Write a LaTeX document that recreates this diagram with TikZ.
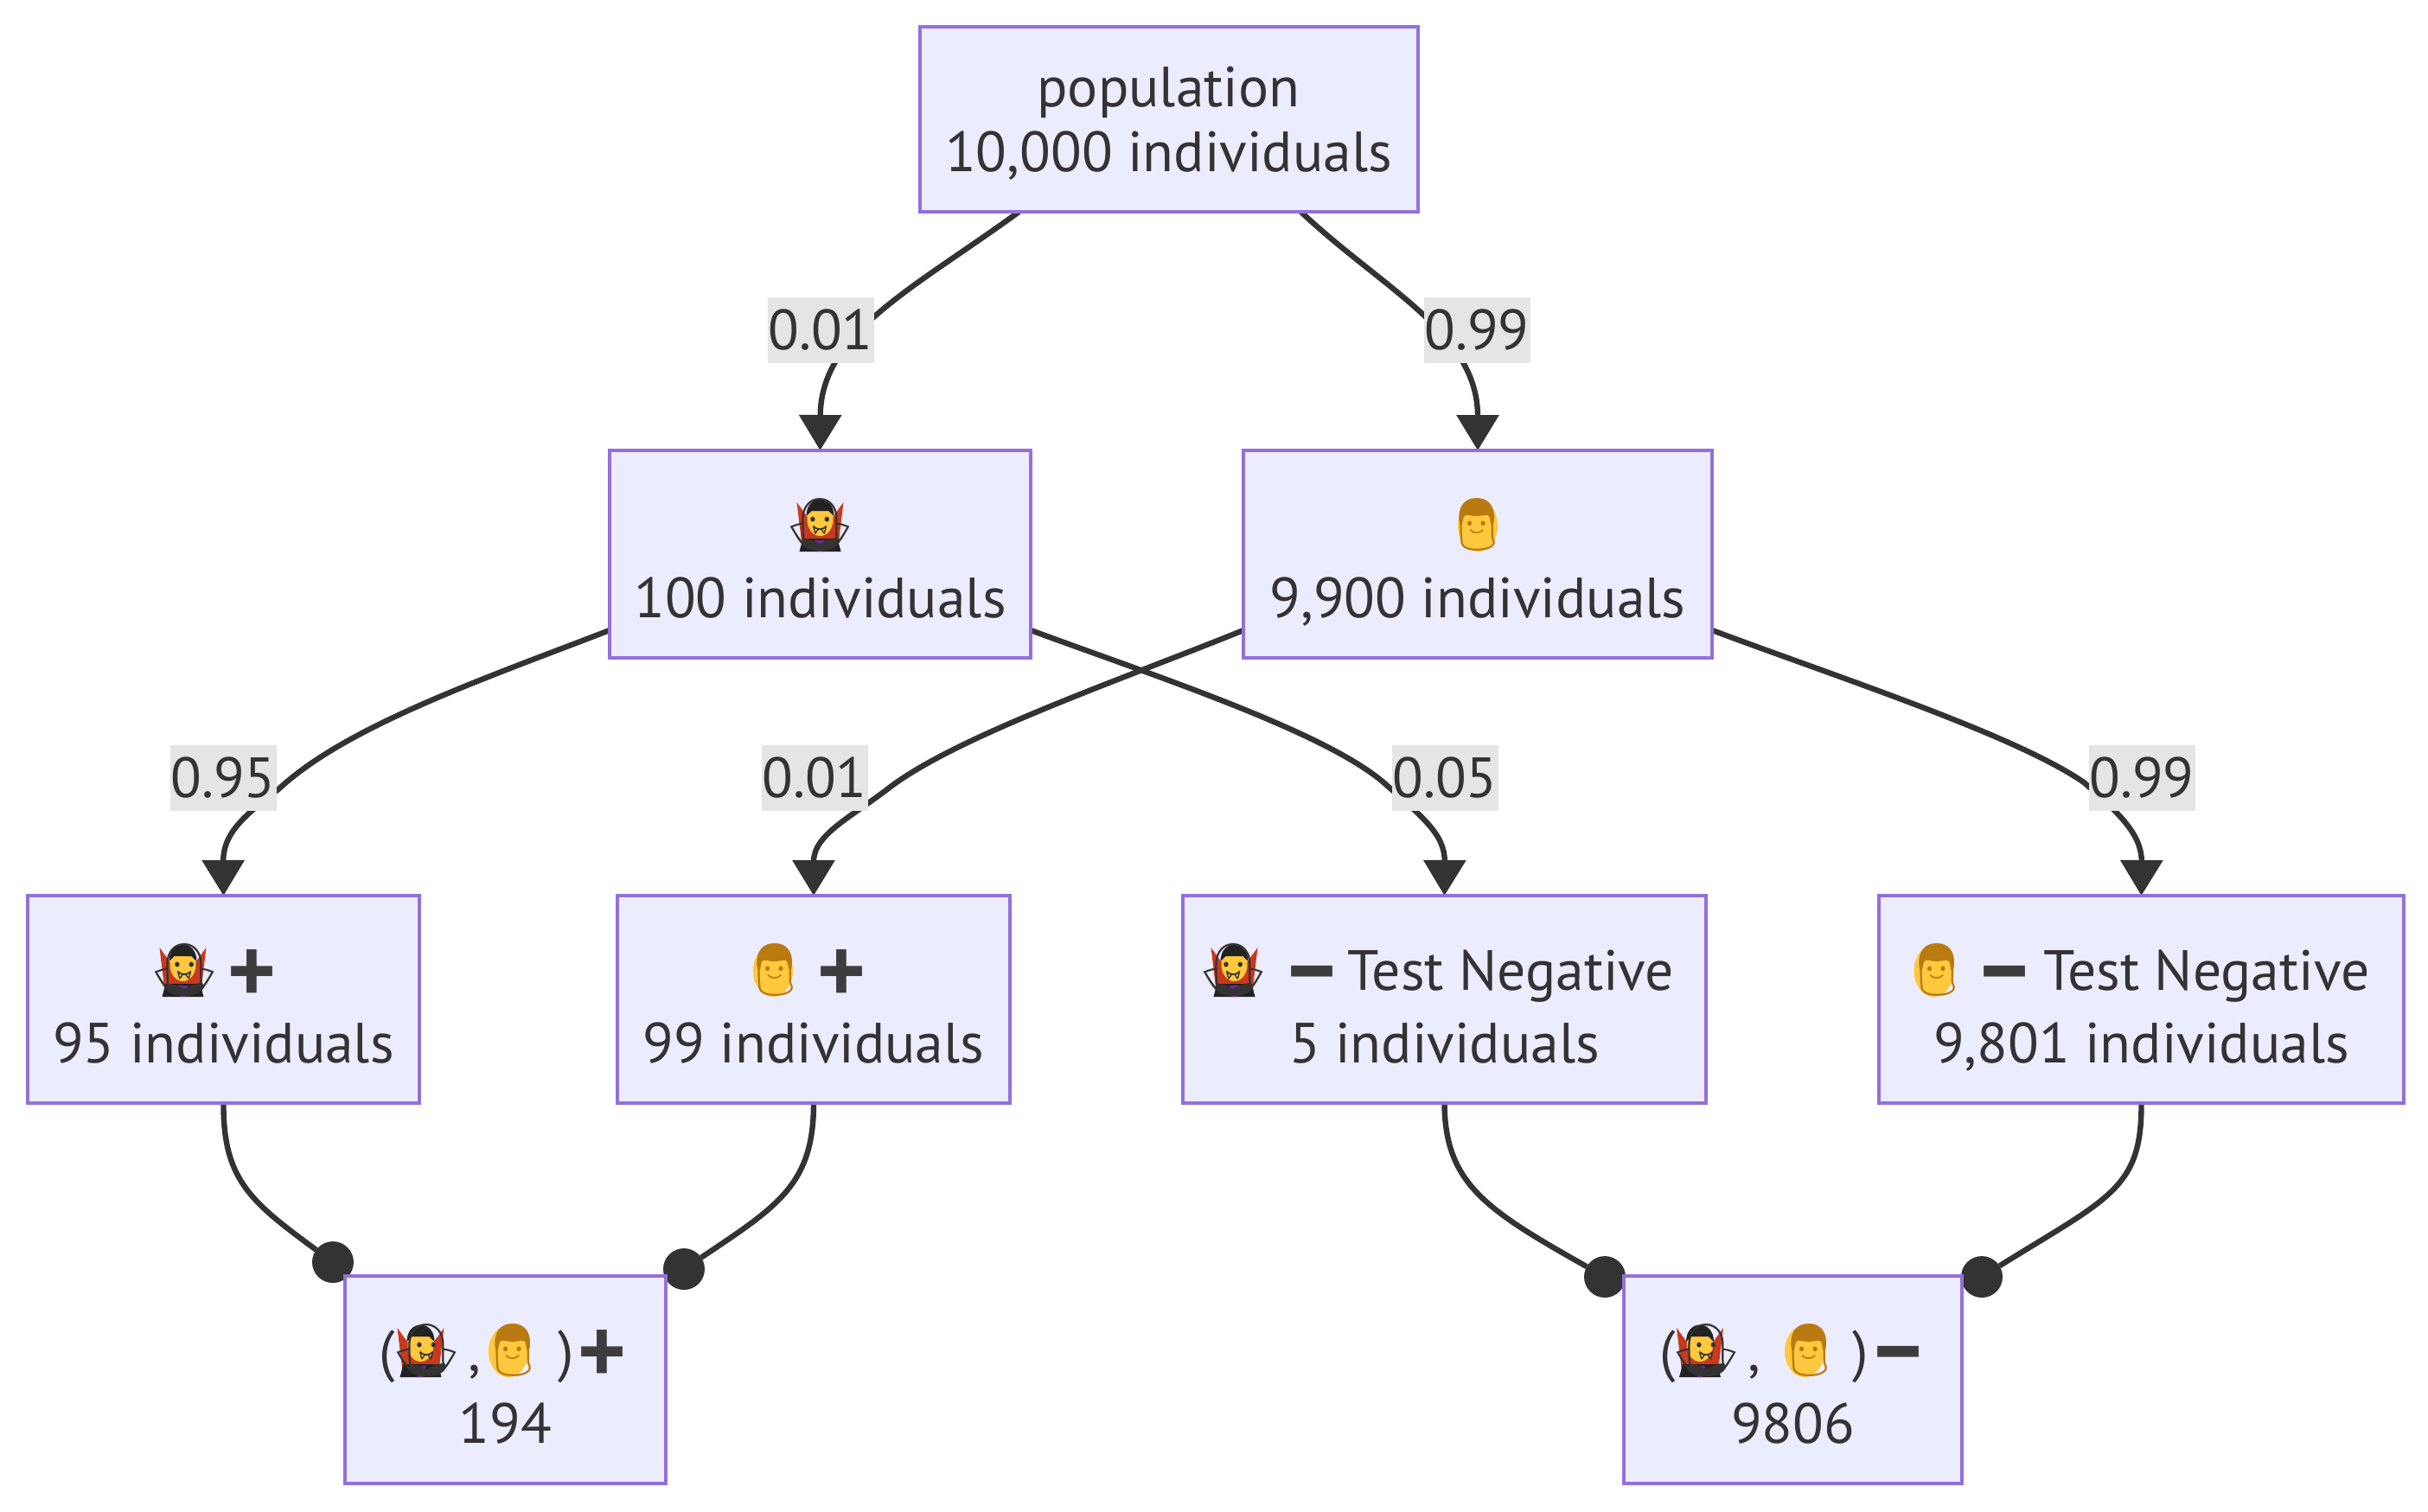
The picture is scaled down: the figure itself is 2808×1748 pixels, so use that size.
\documentclass[tikz,border=0pt]{standalone}
\usepackage{fontspec}
\usetikzlibrary{arrows.meta,backgrounds,calc}
\setmainfont{PT Sans}
\newfontfamily\emo{Noto Emoji}
\definecolor{boxfill}{HTML}{ECECFF}
\definecolor{boxline}{HTML}{9370DB}
\definecolor{ink}{HTML}{333333}
\definecolor{lab}{HTML}{E5E5E5}
\definecolor{skin}{HTML}{FFC83D}
\definecolor{hairc}{HTML}{B97A10}
\definecolor{cape}{HTML}{C8391E}
\definecolor{suit}{HTML}{222222}
\definecolor{vest}{HTML}{6A2C91}
\newcommand\vamp{\makebox[18pt][c]{\raisebox{0.6pt}{\smash{\emo\fontsize{15}{15}\selectfont\color{ink}🧛‍♂️}}}}
\newcommand\hum{\makebox[18pt][c]{\raisebox{0.6pt}{\smash{\emo\fontsize{15}{15}\selectfont\color{hairc}👨}}}}
\newcommand\plusm{\makebox[12pt][c]{\raisebox{1pt}{\smash{\emo\fontsize{13}{13}\selectfont\color{ink!95!white}➕}}}}
\newcommand\minusm{\makebox[12pt][c]{\raisebox{1pt}{\smash{\emo\fontsize{13}{13}\selectfont\color{ink!95!white}➖}}}}
\newcommand\topA{\rule{0pt}{15.25pt}}
\newcommand\topB{\rule{0pt}{19.5pt}}
\newcommand\botD{\rule[-4pt]{0pt}{0pt}}
% colour under an emoji glyph: node name, offset from the node's centre
\newcommand\vampu[3]{\begin{scope}[shift={($(#1.center)+(#2,#3)$)}]
    \fill[cape] (-27,-26) -- (-21,24) -- (21,24) -- (27,-26) -- (14,-8) -- (-14,-8) -- cycle;
    \fill[suit] (-24,31) -- (-20,16) -- (20,16) -- (24,31) -- cycle;
    \fill[vest] (-6,18) -- (6,18) -- (3,31) -- (-3,31) -- cycle;
    \fill[skin] (0,-6) ellipse (15 and 19);
    \fill[suit] (-16,-10) .. controls (-16,-36) and (16,-36) .. (16,-10) -- (10,-16) -- (-10,-16) -- cycle;
  \end{scope}}
\newcommand\manu[3]{\begin{scope}[shift={($(#1.center)+(#2,#3)$)}]
    \fill[skin] (0,1) ellipse (23 and 30);
  \end{scope}}
\newcommand\paintbox[1]{\fill[boxfill] (#1.south west) rectangle (#1.north east);}
\tikzset{
  x=0.25pt,y=-0.25pt,
  box/.style={draw=boxline,line width=1pt,inner sep=0pt,outer sep=0pt,
    text=ink,align=center,font=\fontsize{16.4}{21}\selectfont},
  boxa/.style={box,font=\fontsize{16.4}{18.75}\selectfont},
  edgelab/.style={fill=lab,text=ink,inner sep=0pt,outer sep=0pt,minimum width=30.75pt,minimum height=19pt,font=\fontsize{16.4}{18.75}\selectfont},
  edgeline/.style={draw=ink,line width=1.6pt},
  arrowed/.style={edgeline,-{Triangle[length=10.25pt,width=12pt]}},
  dotmark/.style={circle,fill=ink,inner sep=0pt,minimum size=12pt,outer sep=0pt},
}
\begin{document}
\begin{tikzpicture}
\useasboundingbox (0,0) rectangle (2808,1748);
\node[boxa,minimum width=144pt,minimum height=53.5pt] (pop) at (1351.5,138) {\topA population\\10,000 individuals\botD};
\node[box,minimum width=121.75pt,minimum height=60pt] (v) at (948.5,641) {\topB\vamp\\100 individuals\botD};
\node[box,minimum width=135.5pt,minimum height=60pt] (m) at (1709,641) {\topB\hum\\9,900 individuals\botD};
\node[box,minimum width=113.25pt,minimum height=60pt] (vp) at (258.5,1156) {\topB\vamp\ \plusm\hspace*{6pt}\\95 individuals\botD};
\node[box,minimum width=113.5pt,minimum height=60pt] (mp) at (941,1156) {\topB\hum\ \plusm\hspace*{6pt}\\99 individuals\botD};
\node[box,minimum width=151.25pt,minimum height=60pt] (vn) at (1670.5,1156) {\topB\vamp\hspace{3.3pt}\ \minusm\ Test Negative\hspace*{3.6pt}\\5 individuals\botD};
\node[box,minimum width=151.75pt,minimum height=60pt] (mn) at (2476.5,1156) {\topB\hum\ \minusm\hspace{0.9pt}\ Test Negative\hspace*{2pt}\\9,801 individuals\botD};
\node[box,minimum width=92.75pt,minimum height=60pt] (pos) at (584.5,1596) {\topB(\vamp\hspace{3pt},\hspace{0.5pt}\hum\hspace{4pt})\hspace{2pt}\plusm\hspace*{2.5pt}\\194\botD};
\node[box,minimum width=97.75pt,minimum height=60pt] (neg) at (2073.5,1596) {\topB(\vamp\hspace{3pt},\hspace{5pt}\hum\hspace{3.5pt})\hspace{2.7pt}\minusm\hspace*{2pt}\\9806\botD};
\node[edgelab] (l1) at (949,382) {0.01};
\node[edgelab] (l2) at (1708,382) {0.99};
\node[edgelab] (l3) at (258,900) {0.95};
\node[edgelab] (l4) at (942,900) {0.01};
\node[edgelab] (l5) at (1671,900) {0.05};
\node[edgelab] (l6) at (2477,900) {0.99};
\begin{scope}[on background layer]
\node[dotmark] (d1) at ($(pos.north west)+(-14,-16)$) {};
\node[dotmark] (d2) at ($(pos.north east)+(21,-8)$) {};
\node[dotmark] (d3) at ($(neg.north west)+(-22,1)$) {};
\node[dotmark] (d4) at ($(neg.north east)+(23,1)$) {};
\draw[arrowed] (pop.south west)++(115,0) .. controls (1055,335) and (949,385) .. (v.north);
\draw[arrowed] (pop.south east)++(-135,0) .. controls (1600,335) and (1709,385) .. (m.north);
\draw[arrowed] ($(v.south west)+(0,-32)$) .. controls (560,785) and (400,840) .. (322,913) .. controls (280,945) and (258,965) .. (vp.north);
\draw[arrowed] ($(m.south west)+(0,-32)$) .. controls (1300,785) and (1110,850) .. (1030,910) .. controls (985,945) and (941,965) .. (mp.north);
\draw[arrowed] ($(v.south east)+(0,-32)$) .. controls (1330,780) and (1530,845) .. (1600,905) .. controls (1645,945) and (1671,965) .. (vn.north);
\draw[arrowed] ($(m.south east)+(0,-32)$) .. controls (2130,785) and (2330,850) .. (2410,905) .. controls (2450,940) and (2477,965) .. (mn.north);
\draw[edgeline] (vp.south) .. controls (258,1365) and (290,1390) .. (d1);
\draw[edgeline] (mp.south) .. controls (941,1370) and (900,1395) .. (d2);
\draw[edgeline] (vn.south) .. controls (1671,1370) and (1720,1400) .. (d3);
\draw[edgeline] (mn.south) .. controls (2477,1375) and (2440,1385) .. (d4);
\paintbox{pop}\paintbox{v}\paintbox{m}\paintbox{vp}\paintbox{mp}\paintbox{vn}\paintbox{mn}\paintbox{pos}\paintbox{neg}
\vampu{v}{0}{-34}
\manu{m}{0}{-34}
\vampu{vp}{-47}{-34}
\manu{mp}{-47}{-34}
\vampu{vn}{-243}{-34}
\manu{mn}{-240}{-34}
\vampu{pos}{-98}{-34}
\manu{pos}{3.5}{-34}
\vampu{neg}{-107.5}{-34}
\manu{neg}{13.5}{-34}
\end{scope}
\end{tikzpicture}
\end{document}
